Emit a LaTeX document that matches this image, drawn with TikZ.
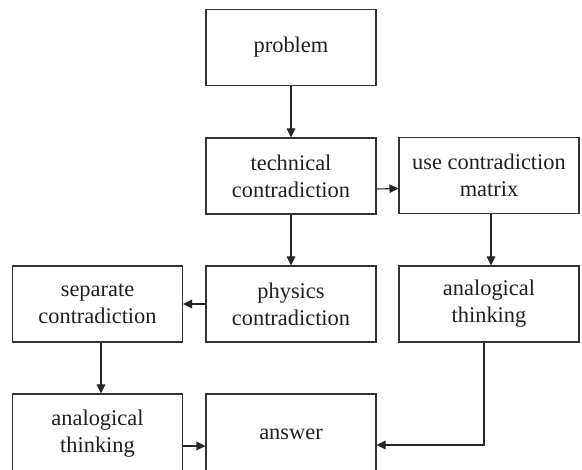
\documentclass[tikz,border=0pt]{standalone}
\usepackage{fontspec}
\setmainfont{Liberation Serif}
\usepackage{tikz}
\usetikzlibrary{positioning,arrows.meta}
\usepackage{xcolor}

\begin{document}
\begin{tikzpicture}[x=1pt,y=-1pt,>={Triangle[length=9pt,width=8.5pt]},
  every node/.style={font=\fontsize{22.4}{27}\selectfont,text=black!88,align=center},
  stepbox/.style={draw=black!80,line width=1.1pt,minimum width=170pt,minimum height=76pt,inner sep=0pt},
  widebox/.style={stepbox,minimum width=180pt},
  link/.style={->,draw=black!85,line width=1.1pt}]
\useasboundingbox (0,0) rectangle (582,470);
\clip (0,0) rectangle (582,470);
\node[stepbox] (problem) at (291,47.5) {problem};
\node[stepbox] (tech) at (291,176) {technical\\contradiction};
\node[widebox] (matrix) at (489,175.5) {use contradiction\\matrix};
\node[stepbox] (phys) at (291,304) {physics\\contradiction};
\node[stepbox] (separate) at (97.5,304) {separate\\contradiction};
\node[widebox] (analogR) at (489,304) {analogical\\thinking};
\node[stepbox,minimum height=80pt] (analogL) at (97.5,434) {analogical\\thinking};
\node[stepbox,minimum height=80pt] (answer) at (291,434) {answer};
\draw[link] (problem) -- (tech);
\draw[link] ([yshift=-13pt]tech.east) -- ([yshift=-13pt]matrix.west);
\draw[link] (tech) -- (phys);
\draw[link] ([xshift=2pt]matrix.south) -- ([xshift=2pt]analogR.north);
\draw[link] (phys) -- (separate);
\draw[link] ([xshift=3.5pt]separate.south) -- ([xshift=3.5pt]analogL.north);
\draw[link] ([yshift=-12pt]analogL.east) -- ([yshift=-12pt]answer.west);
\draw[link] ([xshift=-5pt]analogR.south) |- ([yshift=-11pt]answer.east);
\end{tikzpicture}
\end{document}
